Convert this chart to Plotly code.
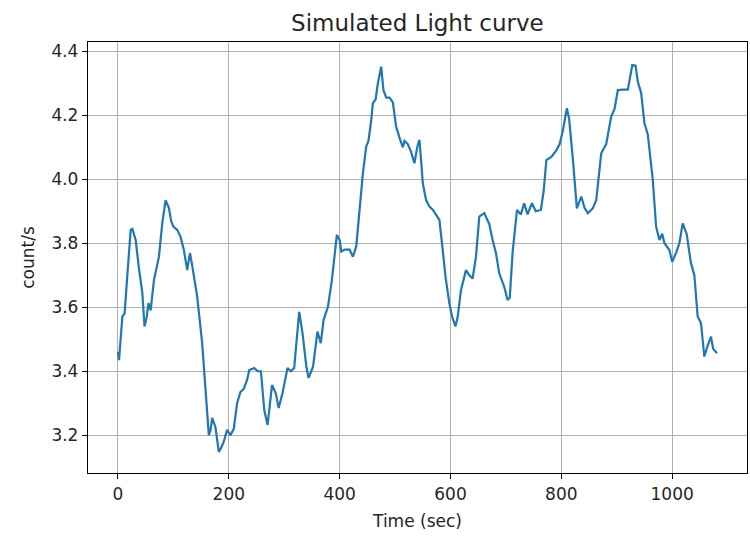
import plotly.graph_objects as go

time_sec = [0, 2, 8, 12, 17, 23, 26, 32, 38, 44, 48, 52, 55, 59, 65, 74, 80, 86, 92, 96,
            100, 107, 113, 119, 125, 130, 134, 143, 152, 158, 163, 164, 167, 170, 176, 182, 186, 191, 197, 203,
            209, 215, 221, 227, 233, 237, 246, 252, 258, 264, 270, 278, 285, 290, 297, 306, 312, 318, 327, 333,
            340, 344, 352, 360, 366, 371, 379, 386, 395, 400, 403, 409, 418, 424, 430, 436, 442, 448, 452, 457,
            460, 465, 469, 475, 479, 484, 490, 496, 502, 508, 514, 517, 523, 529, 535, 540, 544, 547, 550, 556,
            562, 568, 574, 580, 586, 591, 598, 603, 609, 613, 619, 628, 634, 640, 646, 652, 661, 670, 676, 682,
            688, 697, 703, 707, 712, 720, 727, 733, 739, 747, 754, 763, 768, 773, 782, 791, 797, 803, 810, 814,
            821, 828, 836, 842, 848, 857, 863, 872, 881, 890, 896, 902, 911, 920, 928, 934, 938, 944, 950, 956,
            965, 971, 977, 982, 986, 995, 1000, 1007, 1013, 1019, 1026, 1034, 1040, 1046, 1052, 1058, 1064, 1070, 1074, 1081]

count_rate = [3.461, 3.435, 3.571, 3.58, 3.70, 3.842, 3.845, 3.81, 3.72, 3.645, 3.54, 3.57, 3.613, 3.59, 3.685, 3.758, 3.863, 3.935, 3.91, 3.87,
              3.852, 3.842, 3.82, 3.779, 3.716, 3.77, 3.73, 3.633, 3.488, 3.342, 3.227, 3.20, 3.215, 3.254, 3.225, 3.148, 3.16, 3.18, 3.217, 3.20,
              3.22, 3.30, 3.335, 3.345, 3.373, 3.404, 3.41, 3.40, 3.40, 3.279, 3.232, 3.357, 3.33, 3.285, 3.332, 3.41, 3.40, 3.41, 3.586, 3.52,
              3.414, 3.379, 3.414, 3.524, 3.488, 3.56, 3.602, 3.685, 3.826, 3.81, 3.774, 3.78, 3.78, 3.758, 3.79, 3.914, 4.019, 4.102, 4.12, 4.185,
              4.238, 4.25, 4.30, 4.352, 4.279, 4.255, 4.255, 4.24, 4.164, 4.13, 4.10, 4.12, 4.11, 4.085, 4.05, 4.10, 4.123, 4.06, 3.988, 3.935,
              3.915, 3.905, 3.89, 3.873, 3.779, 3.696, 3.612, 3.57, 3.54, 3.57, 3.654, 3.716, 3.70, 3.69, 3.758, 3.883, 3.894, 3.86, 3.81, 3.77,
              3.706, 3.664, 3.623, 3.63, 3.769, 3.904, 3.89, 3.925, 3.89, 3.925, 3.90, 3.904, 3.961, 4.06, 4.07, 4.09, 4.11, 4.154, 4.222, 4.19,
              4.06, 3.909, 3.946, 3.91, 3.894, 3.91, 3.935, 4.081, 4.11, 4.196, 4.22, 4.279, 4.28, 4.28, 4.357, 4.355, 4.305, 4.27, 4.175, 4.14,
              3.998, 3.852, 3.81, 3.83, 3.80, 3.779, 3.742, 3.77, 3.80, 3.862, 3.83, 3.737, 3.70, 3.571, 3.55, 3.446, 3.48, 3.508, 3.47, 3.456]

x_ticks = [0, 200, 400, 600, 800, 1000]
y_ticks = [3.2, 3.4, 3.6, 3.8, 4.0, 4.2, 4.4]
y_tick_labels = ["3.2", "3.4", "3.6", "3.8", "4.0", "4.2", "4.4"]

FONT = "DejaVu Sans"
TXT = "#262626"

fig = go.Figure()
fig.add_trace(go.Scatter(x=time_sec, y=count_rate, mode="lines",
                         line=dict(color="#1f77b4", width=2.2), showlegend=False))

axis_common = dict(showgrid=True, gridcolor="#b0b0b0", gridwidth=1,
                   showline=True, linecolor="black", linewidth=1.3, mirror=True,
                   ticks="outside", ticklen=5, tickwidth=1.2, tickcolor="black",
                   zeroline=False, tickfont=dict(family=FONT, size=17, color=TXT))

fig.update_xaxes(range=[-54, 1135], tickvals=x_ticks,
                 title=dict(text="Time (sec)", font=dict(family=FONT, size=17, color=TXT), standoff=12),
                 **axis_common)
fig.update_yaxes(range=[3.082, 4.429], tickvals=y_ticks, ticktext=y_tick_labels,
                 title=dict(text="count/s", font=dict(family=FONT, size=17, color=TXT), standoff=12),
                 **axis_common)

fig.update_layout(
    width=750, height=537,
    margin=dict(l=88, r=3, t=42, b=64),
    paper_bgcolor="white", plot_bgcolor="white",
    title=dict(text="Simulated Light curve", x=0.5565, xanchor="center",
               y=0.958, yanchor="middle",
               font=dict(family=FONT, size=23, color=TXT)),
)

fig.write_html("out.html")
